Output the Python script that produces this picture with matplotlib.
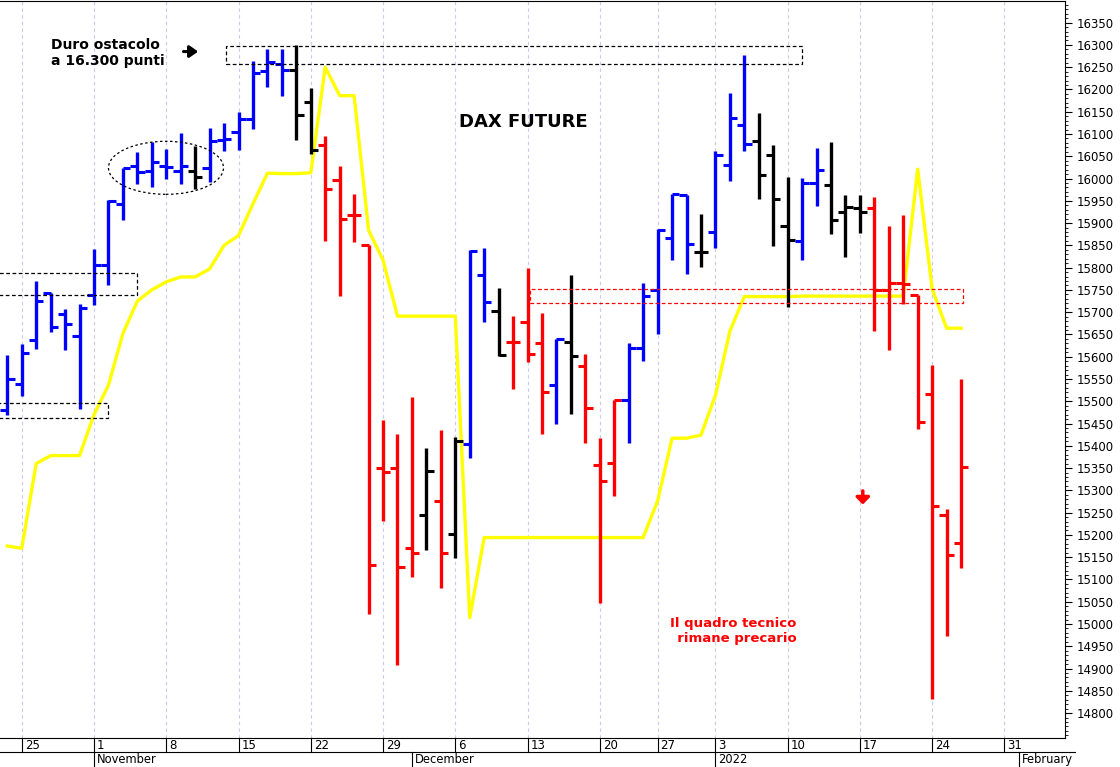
import matplotlib

matplotlib.use("Agg")
import matplotlib.pyplot as plt
from matplotlib.patches import Ellipse, Rectangle
import numpy as np

# OHLC per trading day, index 0 = 22 Oct 2021 (24 and 31 Dec skipped)
opens = [15480, 15539, 15637, 15743, 15695, 15646, 15738, 15805, 15942, 16027,
         16016, 16027, 16016, 16016, 16023, 16087, 16105, 16134, 16242, 16258,
         16244, 16172, 16075, 15997, 15917, 15850, 15351, 15351, 15170, 15245,
         15276, 15201, 15405, 15784, 15702, 15632, 15678, 15630, 15537, 15634,
         15580, 15356, 15362, 15503, 15620, 15750, 15866, 15963, 15836, 15879,
         16031, 16121, 16085, 16052, 15894, 15860, 15991, 15985, 15924, 15933,
         15933, 15750, 15765, 15738, 15516, 15244, 15182]
highs = [15603, 15629, 15771, 15743, 15708, 15719, 15842, 15952, 16024, 16059,
         16081, 16066, 16102, 16074, 16113, 16124, 16150, 16263, 16291, 16291,
         16299, 16203, 16095, 16028, 15966, 15850, 15459, 15426, 15510, 15395,
         15436, 15420, 15840, 15843, 15755, 15691, 15798, 15699, 15640, 15784,
         15606, 15417, 15503, 15630, 15766, 15887, 15966, 15963, 15920, 16062,
         16193, 16278, 16147, 16075, 16004, 16001, 16068, 16081, 15963, 15963,
         15958, 15893, 15917, 15738, 15582, 15259, 15549]
lows = [15468, 15511, 15618, 15655, 15614, 15483, 15715, 15760, 15907, 15987,
        15982, 15999, 15987, 15977, 15992, 16061, 16063, 16111, 16206, 16186,
        16087, 16054, 15860, 15737, 15858, 15022, 15232, 14909, 15106, 15166,
        15081, 15148, 15372, 15678, 15601, 15527, 15588, 15426, 15448, 15472,
        15407, 15047, 15287, 15407, 15590, 15652, 15817, 15786, 15802, 15843,
        15994, 16062, 15953, 15848, 15712, 15816, 15939, 15876, 15823, 15878,
        15657, 15615, 15719, 15437, 14831, 14973, 15125]
closes = [15551, 15608, 15725, 15666, 15673, 15710, 15805, 15950, 16024, 16014,
          16037, 16025, 16029, 16003, 16085, 16089, 16134, 16236, 16262, 16244,
          16143, 16064, 15977, 15910, 15917, 15132, 15341, 15129, 15160, 15343,
          15160, 15410, 15838, 15722, 15603, 15632, 15606, 15521, 15640, 15601,
          15485, 15321, 15503, 15620, 15737, 15884, 15966, 15853, 15836, 16052,
          16136, 16077, 16008, 15953, 15863, 15991, 16018, 15906, 15936, 15925,
          15750, 15765, 15763, 15454, 15264, 15154, 15352]
bar_colors = ("bbbbbbbbbbbbbkbbbbbbkkrrrrrrrkrkbbkrrrbkrrrbbbbbkbbbkkkbbkkkrrrrrrr")
yellow_line = [15175, 15170, 15360, 15378, 15378, 15378, 15470, 15536, 15652, 15725,
               15750, 15768, 15779, 15779, 15797, 15850, 15872, 15943, 16012, 16011,
               16011, 16013, 16250, 16186, 16186, 15884, 15817, 15691, 15691, 15691,
               15691, 15691, 15014, 15194, 15194, 15194, 15194, 15194, 15194, 15194,
               15194, 15194, 15194, 15194, 15194, 15276, 15417, 15417, 15424, 15513,
               15657, 15735, 15735, 15735, 15735, 15736, 15736, 15736, 15736, 15736,
               15736, 15736, 15736, 16021, 15752, 15664, 15664]

day_ticks = [1, 6, 11, 16, 21, 26, 31, 36, 41, 45, 49, 54, 59, 64, 69]
day_labels = ["25", "1", "8", "15", "22", "29", "6", "13", "20", "27", "3", "10",
              "17", "24", "31"]
month_starts = [6, 28, 49, 70]
month_labels = ["November", "December", "2022", "February"]

color_map = {"b": "#0000ff", "r": "#ff0000", "k": "#000000"}

fig = plt.figure(figsize=(11.2, 7.67), dpi=100)
ax = fig.add_axes([0.0, 0.0378, 0.951, 0.9612])
ax.set_xlim(-0.505, 73.2)
ax.set_ylim(14744, 16399)

for x in day_ticks:
    ax.axvline(x, color="#c8c8f0", lw=0.8, ls=(0, (3, 3)), zorder=0)

ax.plot(np.arange(len(yellow_line)), yellow_line, color="#ffff00", lw=2.4, zorder=2)

for i in range(len(opens)):
    c = color_map[bar_colors[i]]
    ax.vlines(i, lows[i], highs[i], color=c, lw=2.4, zorder=3)
    ax.hlines(opens[i], i - 0.5, i, color=c, lw=2.2, zorder=3)
    ax.hlines(closes[i], i, i + 0.5, color=c, lw=2.2, zorder=3)

# dashed boxes
boxes = [(15.1, 16258, 55.0, 16298, "black"),
         (-0.6, 15738, 9.0, 15787, "black"),
         (-0.6, 15463, 7.0, 15495, "black"),
         (36.2, 15721, 66.1, 15753, "red")]
for x0, y0, x1, y1, c in boxes:
    ax.add_patch(Rectangle((x0, y0), x1 - x0, y1 - y0, fill=False, ec=c,
                           lw=0.9, ls=(0, (3, 2)), zorder=4))
ax.add_patch(Ellipse((10.98, 16024), 7.96, 119, fill=False, ec="black",
                     lw=0.9, ls=(0, (2, 2)), zorder=4))

ax.text(3.0, 16282, "Duro ostacolo\na 16.300 punti", fontsize=10,
        fontweight="bold", va="center", ha="left", linespacing=1.2)
ax.annotate("", xy=(13.4, 16285), xytext=(12.0, 16285),
            arrowprops=dict(arrowstyle="-|>,head_width=0.35,head_length=0.5",
                            color="black", lw=2.2))
ax.text(35.7, 16126, "DAX FUTURE", fontsize=13, fontweight="bold",
        ha="center", va="center")
ax.text(50.2, 14985, "Il quadro tecnico\n  rimane precario", fontsize=9.5,
        fontweight="bold", color="#ff0000", ha="center", va="center",
        linespacing=1.2)
ax.annotate("", xy=(59.2, 15262), xytext=(59.2, 15305),
            arrowprops=dict(arrowstyle="-|>,head_width=0.4,head_length=0.4",
                            color="#ff0000", lw=2.5))

# axes styling
ax.spines["left"].set_visible(False)
ax.yaxis.tick_right()
ax.set_yticks(np.arange(14800, 16351, 50))
ax.set_yticks(np.arange(14750, 16400, 10), minor=True)
ax.tick_params(axis="y", which="major", length=5, labelsize=8.5, pad=3)
ax.tick_params(axis="y", which="minor", length=2.5)
ax.set_xticks([])

# date rows below the plot (axes fraction: 738 px high)
trans = ax.get_xaxis_transform()
for x, lab in zip(day_ticks, day_labels):
    ax.plot([x, x], [0, -0.019], transform=trans, color="black", lw=0.8,
            clip_on=False)
    ax.text(x + 0.2, -0.0095, lab, transform=trans, fontsize=8.5, ha="left",
            va="center", clip_on=False)
ax.plot([-0.505, 73.9], [-0.019, -0.019], transform=trans, color="black",
        lw=0.8, clip_on=False)
for x, lab in zip(month_starts, month_labels):
    ax.plot([x, x], [-0.019, -0.04], transform=trans, color="black", lw=0.8,
            clip_on=False)
    ax.text(x + 0.2, -0.0295, lab, transform=trans, fontsize=8.3, ha="left",
            va="center", clip_on=False)

fig.savefig("out.png", dpi=100, facecolor="white")
